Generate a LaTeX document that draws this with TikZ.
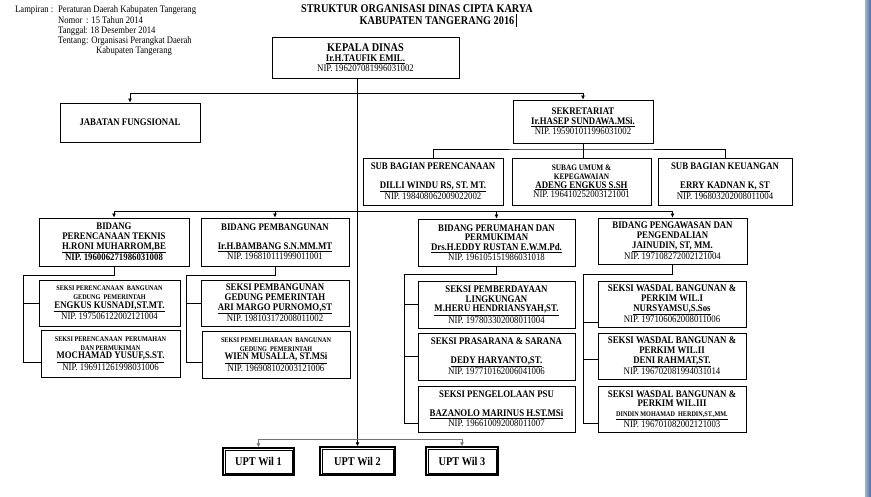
\documentclass[tikz,border=0pt]{standalone}
\usepackage{fontspec}
\setmainfont{Liberation Serif}[FakeStretch=0.87]
\usetikzlibrary{arrows.meta}
\definecolor{barblue}{RGB}{72,104,158}
\definecolor{barlight}{RGB}{160,182,214}
\newcommand{\nama}[1]{{\bfseries\underline{#1}}}
\newcommand{\kecil}[1]{{\fontsize{7.1}{7.5}\selectfont\bfseries #1}}
\tikzset{
  orgbox/.style  = {draw,line width=0.9pt,inner sep=0pt,align=center,
                    font=\fontsize{10.1}{9.8}\selectfont},
  uptbox/.style  = {draw,line width=1.5pt,inner sep=0pt,
                    align=center,font=\fontsize{11.8}{11}\selectfont\bfseries},
  link/.style    = {line width=0.7pt},
  arr/.style     = {-{Latex[length=4pt,width=4pt]},line width=0.7pt},
  headtext/.style= {anchor=base west,inner sep=0pt,font=\fontsize{9.9}{10}\selectfont}
}
\newcommand{\orgnode}[6]{\node[orgbox,minimum width=#4pt,minimum height=#5pt] (#1) at (#2,#3) {#6};}

\begin{document}
\begin{tikzpicture}[x=1pt,y=-1pt]
  \useasboundingbox (0,0) rectangle (871,497);
  \fill[white] (0,0) rectangle (871,497);
  \fill[left color=barlight,right color=barblue] (865,0) rectangle (871,497);

  % lampiran
  \node[headtext] (lamp)  at (15,13)   {Lampiran :};
  \node[headtext] (perda) at (58,13)   {Peraturan Daerah Kabupaten Tangerang};
  \node[headtext] (nomor) at (58,23.5) {Nomor};
  \node[headtext] (nomv)  at (86,23.5) {: 15 Tahun 2014};
  \node[headtext] (tgl)   at (58,34)   {Tanggal};
  \node[headtext] (tglv)  at (85,34)   {: 18 Desember 2014};
  \node[headtext] (ttg)   at (58,44)   {Tentang};
  \node[headtext] (ttgv)  at (86,44)   {: Organisasi Perangkat Daerah};
  \node[headtext] (kab)   at (96,54)   {Kabupaten Tangerang};

  % judul
  \node[font=\fontsize{11.8}{11}\selectfont\bfseries,inner sep=0pt] (judul1) at (417,9)  {STRUKTUR ORGANISASI DINAS CIPTA KARYA};
  \node[font=\fontsize{11.8}{11}\selectfont\bfseries,inner sep=0pt] (judul2) at (437,21) {KABUPATEN TANGERANG 2016};
  \draw[line width=0.8pt] (judul2.east) ++(1.5,-6.5) -- ++(0,13);

  % pimpinan dan sekretariat
  \orgnode{kadis}{365.5}{57.5}{187}{41}{{\fontsize{11.8}{10}\selectfont\bfseries KEPALA DINAS}\\ \nama{Ir.H.TAUFIK EMIL.}\\ NIP. 196207081996031002}
  \orgnode{jabfung}{130}{122.5}{140}{39}{\textbf{JABATAN FUNGSIONAL}}
  \orgnode{sekre}{583}{121.5}{140}{43}{\textbf{SEKRETARIAT}\\ \nama{Ir.HASEP SUNDAWA.MSi.}\\ NIP. 195901011996031002}

  \orgnode{subper}{433}{181.5}{140}{47}{\textbf{SUB BAGIAN PERENCANAAN}\\[9pt] \nama{DILLI WINDU RS, ST. MT.}\\ NIP. 198408062009022002}
  \orgnode{subum}{581.5}{181.5}{139}{47}{{\fontsize{8.4}{8}\selectfont\bfseries SUBAG UMUM \&}\\[-1pt] {\fontsize{8.4}{8}\selectfont\bfseries KEPEGAWAIAN}\\[-1pt] \nama{ADENG ENGKUS S.SH}\\ NIP. 196410252003121001}
  \orgnode{subkeu}{725}{181.5}{134}{47}{\textbf{SUB BAGIAN KEUANGAN}\\[9pt] \nama{ERRY KADNAN K, ST}\\ NIP. 196803202008011004}

  % bidang
  \orgnode{bidrt}{114}{242}{150}{48}{\textbf{BIDANG}\\ \textbf{PERENCANAAN TEKNIS}\\ \nama{H.RONI MUHARROM,BE}\\ \textbf{NIP. 196006271986031008}}
  \orgnode{bidpem}{275}{242}{148}{48}{\textbf{BIDANG PEMBANGUNAN}\\[9pt] \nama{Ir.H.BAMBANG S.N.MM.MT}\\ NIP. 196810111999011001}
  \orgnode{bidkim}{496.5}{242.5}{157}{47}{\textbf{BIDANG PERUMAHAN DAN}\\ \textbf{PERMUKIMAN}\\ \nama{Drs.H.EDDY RUSTAN E.W.M.Pd.}\\ NIP. 196105151986031018}
  \orgnode{bidwas}{672.5}{241}{149}{46}{\textbf{BIDANG PENGAWASAN DAN}\\ \textbf{PENGENDALIAN}\\ \nama{JAINUDIN, ST, MM.}\\ NIP. 197108272002121004}

  % seksi
  \orgnode{sekrb}{109.5}{303}{141}{46}{\kecil{SEKSI PERENCANAAN \ BANGUNAN}\\[-1pt] \kecil{GEDUNG \ PEMERINTAH}\\[-1pt] \nama{ENGKUS KUSNADI,ST.MT.}\\ NIP. 197506122002121004}
  \orgnode{sekrp}{110.5}{353.5}{139}{47}{\kecil{SEKSI PERENCANAAN \ PERUMAHAN}\\[-1pt] \kecil{DAN PERMUKIMAN}\\[-1pt] \nama{MOCHAMAD YUSUF,S.ST.}\\ NIP. 196911261998031006}
  \orgnode{sekpg}{275}{303}{148}{46}{\textbf{SEKSI PEMBANGUNAN}\\ \textbf{GEDUNG PEMERINTAH}\\ \nama{ARI MARGO PURNOMO,ST}\\ NIP. 198103172008011002}
  \orgnode{sekpl}{276}{354.5}{148}{47}{\kecil{SEKSI PEMELIHARAAN \ BANGUNAN}\\[-1pt] \kecil{GEDUNG \ PEMERINTAH}\\[-1pt] \nama{WIEN MUSALLA, ST.MSi}\\ NIP. 196908102003121006}
  \orgnode{sekbl}{496.5}{304.5}{157}{47}{\textbf{SEKSI PEMBERDAYAAN}\\ \textbf{LINGKUNGAN}\\ \nama{M.HERU HENDRIANSYAH,ST.}\\ NIP. 197803302008011004}
  \orgnode{sekps}{496.5}{356.5}{157}{47}{\textbf{SEKSI PRASARANA \& SARANA}\\[9pt] \nama{DEDY HARYANTO,ST.}\\ NIP. 197710162006041006}
  \orgnode{sekpsu}{496.5}{409}{157}{46}{\textbf{SEKSI PENGELOLAAN PSU}\\[9pt] \nama{BAZANOLO MARINUS H.ST.MSi}\\ NIP. 196610092008011007}
  \orgnode{wasa}{672}{304}{148}{46}{\textbf{SEKSI WASDAL BANGUNAN \&}\\ \textbf{PERKIM WIL.I}\\ \nama{NURSYAMSU,S.Sos}\\ NIP. 197106062008011006}
  \orgnode{wasb}{672}{356}{148}{46}{\textbf{SEKSI WASDAL BANGUNAN \&}\\ \textbf{PERKIM WIL.II}\\ \nama{DENI RAHMAT,ST.}\\ NIP. 196702081994031014}
  \orgnode{wasc}{672}{409}{148}{46}{\textbf{SEKSI WASDAL BANGUNAN \&}\\ \textbf{PERKIM WIL.III}\\ \kecil{\underline{DINDIN MOHAMAD \ HERDIN,ST.,MM.}}\\ NIP. 196701082002121003}

  % upt
  \node[uptbox,minimum width=71pt,minimum height=27pt] (upta) at (258.5,461.5) {UPT Wil 1};
  \node[uptbox,minimum width=75pt,minimum height=28pt] (uptb) at (357.5,461)   {UPT Wil 2};
  \node[uptbox,minimum width=72pt,minimum height=28pt] (uptc) at (462,461)     {UPT Wil 3};
  \foreach \u in {upta,uptb,uptc}
    \draw[line width=0.5pt] ([xshift=2.6pt,yshift=-2.6pt]\u.north west) rectangle ([xshift=-2.6pt,yshift=2.6pt]\u.south east);

  % garis komando
  \coordinate (tjab) at (357,93);
  \coordinate (tbid) at (357,211);
  \coordinate (tupt) at (357,439);
  \coordinate (tsub) at (583,149);
  \draw[arr] (kadis.south -| uptb) -- (uptb.north);
  \draw[arr] (tjab) -| (jabfung.north);
  \draw[arr] (tjab) -| (sekre.north);
  \draw[link] (sekre.south) -- (tsub);
  \draw[link] (subper.north) |- (tsub) -| (subkeu.north);
  \draw[link] (tsub) -- (tsub |- subum.north);
  \draw[arr] (tbid) -| (bidrt.north);
  \draw[arr] (tbid) -| (bidpem.north);
  \draw[arr] (tbid) -| (bidkim.north);
  \draw[arr] (tbid) -| (bidwas.north);
  \draw[arr,draw=black!55] (tupt) -| (upta.north);
  \draw[arr,draw=black!55] (tupt) -| (uptc.north);

  % garis ke seksi
  \coordinate (elba) at (23,275);
  \coordinate (elbb) at (186,275);
  \coordinate (elbc) at (404,274);
  \coordinate (elbd) at (583,274);
  \draw[link] (bidrt.south) |- (elba) |- ([yshift=-8.5pt]sekrp.west);
  \draw[link] (elba |- sekrb.west) -- (sekrb.west);
  \draw[link] (bidpem.south) |- (elbb) |- ([yshift=-7.5pt]sekpl.west);
  \draw[link] (elbb |- sekpg.west) -- (sekpg.west);
  \draw[link] (bidkim.south) |- (elbc) |- ([yshift=-14pt]sekpsu.west);
  \draw[link] (elbc |- sekbl.west) -- (sekbl.west);
  \draw[link] (elbc |- sekps.west) -- (sekps.west);
  \draw[link] (bidwas.south) |- (elbd) |- ([yshift=-14pt]wasc.west);
  \draw[link] ([yshift=-18pt]wasa.west -| elbd) -- ([yshift=-18pt]wasa.west);
  \draw[link] ([yshift=-3pt]wasb.west -| elbd) -- ([yshift=-3pt]wasb.west);
\end{tikzpicture}
\end{document}
